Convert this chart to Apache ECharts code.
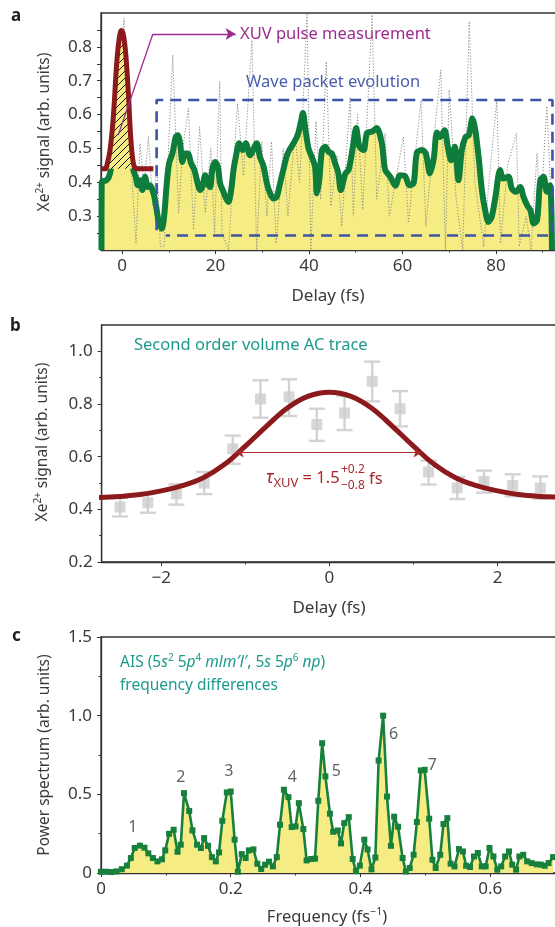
<!DOCTYPE html>
<html>
<head>
<meta charset="utf-8">
<script src="https://cdn.jsdelivr.net/npm/echarts@6/dist/echarts.min.js"></script>
<style>
  html, body { margin: 0; padding: 0; background: #fff; }
  #chart { width: 555px; height: 927px; }
</style>
</head>
<body>
<div id="chart"></div>
<script>
// ---- panel a: wave packet trace ----
var aDelaySmooth = [-4.4, -4.35, -3.3, -2.57, -1.86, -1.14, -0.64, -0.21, 0.29, 1.0, 1.71, 2.43, 2.93, 3.36, 3.85, 4.35, 4.93, 5.5, 6.0, 6.5, 6.93, 7.43, 7.93, 8.5, 9.0, 9.57, 10.07, 10.78, 11.49, 11.92, 12.42, 12.92, 13.49, 14.06, 14.78, 15.49, 16.2, 16.7, 17.2, 17.78, 18.35, 18.85, 19.35, 19.92, 20.5, 21.0, 21.7, 22.27, 22.77, 23.35, 23.85, 24.35, 25.06, 25.77, 26.49, 27.4, 28.8, 29.5, 30.3, 31.0, 31.7, 32.4, 33.1, 33.8, 34.5, 35.3, 36.0, 36.9, 37.6, 38.3, 38.7, 39.2, 39.9, 40.6, 41.3, 41.7, 42.2, 42.8, 43.5, 44.2, 44.9, 45.6, 46.3, 46.8, 47.8, 48.5, 49.4, 50.1, 50.8, 51.7, 52.4, 53.5, 54.5, 55.6, 56.3, 57.4, 58.5, 59.5, 60.6, 61.5, 62.4, 63.1, 64.2, 65.0, 65.9, 66.7, 67.4, 68.1, 69.0, 69.7, 70.4, 71.2, 72.0, 72.7, 73.5, 74.2, 75.0, 75.6, 76.3, 77.0, 77.7, 78.4, 79.1, 79.9, 80.9, 81.6, 82.7, 83.4, 84.3, 85.2, 85.9, 86.7, 87.4, 88.1, 88.8, 89.5, 90.2, 90.9, 91.6, 92.0];
var aSignalSmooth = [0.2, 0.40, 0.406, 0.426, 0.495, 0.584, 0.663, 0.722, 0.697, 0.594, 0.495, 0.436, 0.416, 0.391, 0.406, 0.377, 0.416, 0.386, 0.391, 0.377, 0.357, 0.317, 0.278, 0.263, 0.298, 0.396, 0.456, 0.485, 0.534, 0.539, 0.515, 0.46, 0.485, 0.485, 0.456, 0.436, 0.396, 0.377, 0.386, 0.421, 0.396, 0.386, 0.441, 0.46, 0.446, 0.396, 0.372, 0.352, 0.342, 0.377, 0.436, 0.475, 0.515, 0.495, 0.515, 0.48, 0.515, 0.475, 0.446, 0.396, 0.367, 0.352, 0.357, 0.396, 0.436, 0.48, 0.50, 0.52, 0.54, 0.58, 0.605, 0.56, 0.50, 0.475, 0.446, 0.367, 0.406, 0.495, 0.505, 0.49, 0.485, 0.456, 0.426, 0.377, 0.426, 0.437, 0.505, 0.56, 0.505, 0.495, 0.545, 0.55, 0.56, 0.515, 0.437, 0.416, 0.39, 0.421, 0.418, 0.391, 0.398, 0.488, 0.495, 0.485, 0.426, 0.47, 0.547, 0.534, 0.554, 0.505, 0.465, 0.505, 0.406, 0.495, 0.534, 0.539, 0.589, 0.554, 0.475, 0.377, 0.317, 0.283, 0.298, 0.357, 0.436, 0.411, 0.416, 0.381, 0.372, 0.386, 0.357, 0.332, 0.317, 0.278, 0.288, 0.406, 0.416, 0.372, 0.391, 0.2];

var aDelayRaw = [-4.4, -3.0, -1.5, -0.5, 0.43, 1.5, 2.99, 3.85, 4.7, 5.65, 6.6, 7.5, 8.2, 9.0, 10.85, 12.1, 13.0, 14.2, 15.3, 16.6, 17.8, 19.0, 19.8, 20.9, 21.4, 22.8, 24.7, 26.0, 27.8, 28.8, 29.9, 31.0, 32.0, 33.0, 34.5, 35.5, 37.0, 38.0, 39.6, 40.4, 41.5, 42.5, 43.7, 44.7, 46.0, 47.0, 48.8, 49.5, 50.4, 51.5, 53.5, 54.5, 56.3, 57.2, 58.5, 60.2, 61.3, 62.5, 64.0, 65.0, 66.5, 68.2, 69.2, 70.0, 71.5, 72.9, 74.3, 75.5, 77.4, 78.5, 80.2, 81.0, 82.5, 84.4, 85.0, 86.5, 87.5, 88.8, 89.5, 90.9, 91.8];
var aSignalRaw = [0.40, 0.41, 0.52, 0.75, 0.885, 0.55, 0.22, 0.515, 0.386, 0.535, 0.33, 0.45, 0.21, 0.21, 0.776, 0.31, 0.50, 0.619, 0.26, 0.564, 0.31, 0.50, 0.25, 0.697, 0.25, 0.20, 0.633, 0.42, 0.82, 0.20, 0.52, 0.30, 0.52, 0.22, 0.50, 0.30, 0.545, 0.40, 0.90, 0.20, 0.58, 0.35, 0.757, 0.33, 0.48, 0.27, 0.651, 0.30, 0.60, 0.32, 0.895, 0.35, 0.545, 0.30, 0.40, 0.534, 0.28, 0.45, 0.643, 0.27, 0.50, 0.732, 0.20, 0.673, 0.35, 0.20, 0.875, 0.40, 0.21, 0.40, 0.643, 0.22, 0.45, 0.545, 0.21, 0.30, 0.20, 0.486, 0.30, 0.625, 0.35];

var aDelayPulse = [-4.4, -3.5, -3.3, -2.57, -1.86, -1.14, -0.64, -0.15, 0.29, 0.78, 1.36, 1.85, 2.43, 3.1, 3.6, 6.7];
var aSignalPulse = [0.44, 0.44, 0.446, 0.495, 0.594, 0.752, 0.82, 0.848, 0.835, 0.781, 0.663, 0.535, 0.456, 0.44, 0.44, 0.44];

// dashed "wave packet" box corners (delay, signal)
var aBoxDelay = [7.4, 7.4, 92.1, 92.1, 9.35];
var aBoxSignal = [0.258, 0.643, 0.643, 0.243, 0.243];

var aXLabels = [0, 20, 40, 60, 80];
var aXMinor = [10, 30, 50, 70, 90];
var aYLabels = [0.3, 0.4, 0.5, 0.6, 0.7, 0.8];
var aYTicks = [0.25, 0.3, 0.35, 0.4, 0.45, 0.5, 0.55, 0.6, 0.65, 0.7, 0.75, 0.8, 0.85];

// ---- panel b: autocorrelation ----
var bDelay = [-2.49, -2.16, -1.82, -1.49, -1.15, -0.82, -0.48, -0.15, 0.18, 0.51, 0.84, 1.18, 1.52, 1.84, 2.18, 2.51];
var bSignal = [0.409, 0.425, 0.459, 0.50, 0.630, 0.819, 0.827, 0.722, 0.766, 0.886, 0.782, 0.542, 0.481, 0.506, 0.49, 0.481];
var bErrLow = [0.373, 0.387, 0.418, 0.458, 0.573, 0.748, 0.754, 0.66, 0.701, 0.81, 0.715, 0.494, 0.439, 0.463, 0.449, 0.44];
var bErrHigh = [0.443, 0.462, 0.495, 0.542, 0.68, 0.89, 0.894, 0.782, 0.83, 0.961, 0.849, 0.585, 0.523, 0.547, 0.533, 0.525];

var bFitDelay = [-2.75, -2.5, -2.25, -2.0, -1.75, -1.5, -1.25, -1.0, -0.75, -0.5, -0.25, 0, 0.25, 0.5, 0.75, 1.0, 1.25, 1.5, 1.75, 2.0, 2.25, 2.5, 2.75, 3.0];
var bFitSignal = [0.445, 0.449, 0.456, 0.470, 0.49, 0.52, 0.57, 0.64, 0.715, 0.785, 0.83, 0.845, 0.83, 0.785, 0.715, 0.64, 0.57, 0.52, 0.49, 0.47, 0.456, 0.449, 0.446, 0.445];

var bXLabels = [-2, 0, 2];
var bXMinor = [-1, 1];
var bYLabels = [0.2, 0.4, 0.6, 0.8, 1.0];
var bYMinor = [0.3, 0.5, 0.7, 0.9];

// ---- panel c: power spectrum ----
var cFreq = [0.000, 0.008, 0.016, 0.024, 0.032, 0.040, 0.046, 0.052, 0.060, 0.067, 0.073, 0.080, 0.087, 0.094, 0.099, 0.105, 0.112, 0.118, 0.123, 0.128, 0.136, 0.141, 0.148, 0.154, 0.159, 0.165, 0.171, 0.177, 0.182, 0.187, 0.194, 0.200, 0.206, 0.211, 0.217, 0.223, 0.228, 0.235, 0.241, 0.247, 0.253, 0.259, 0.265, 0.271, 0.276, 0.282, 0.289, 0.294, 0.300, 0.305, 0.312, 0.317, 0.324, 0.330, 0.335, 0.341, 0.346, 0.353, 0.358, 0.365, 0.370, 0.375, 0.382, 0.388, 0.393, 0.399, 0.406, 0.411, 0.417, 0.423, 0.428, 0.435, 0.441, 0.447, 0.452, 0.458, 0.465, 0.470, 0.476, 0.482, 0.487, 0.493, 0.499, 0.506, 0.511, 0.516, 0.523, 0.528, 0.534, 0.539, 0.545, 0.552, 0.558, 0.563, 0.569, 0.575, 0.581, 0.587, 0.593, 0.599, 0.605, 0.611, 0.617, 0.623, 0.629, 0.634, 0.640, 0.645, 0.651, 0.657, 0.664, 0.672, 0.678, 0.684, 0.690, 0.697];
var cPower = [0.008, 0.008, 0.006, 0.010, 0.024, 0.047, 0.095, 0.159, 0.174, 0.161, 0.125, 0.095, 0.074, 0.087, 0.144, 0.249, 0.275, 0.135, 0.180, 0.508, 0.394, 0.271, 0.180, 0.159, 0.222, 0.173, 0.101, 0.074, 0.131, 0.332, 0.512, 0.518, 0.212, 0.008, 0.120, 0.095, 0.144, 0.150, 0.059, 0.025, 0.053, 0.072, 0.042, 0.101, 0.307, 0.529, 0.482, 0.292, 0.296, 0.444, 0.279, 0.080, 0.089, 0.091, 0.459, 0.825, 0.614, 0.377, 0.262, 0.270, 0.188, 0.317, 0.355, 0.089, 0.012, 0.047, 0.212, 0.150, 0.023, 0.098, 0.715, 1.000, 0.486, 0.173, 0.358, 0.294, 0.095, 0.010, 0.032, 0.116, 0.324, 0.652, 0.656, 0.345, 0.084, 0.032, 0.116, 0.311, 0.349, 0.059, 0.042, 0.152, 0.137, 0.046, 0.038, 0.105, 0.127, 0.042, 0.042, 0.159, 0.105, 0.021, 0.042, 0.105, 0.137, 0.053, 0.021, 0.105, 0.116, 0.074, 0.063, 0.055, 0.053, 0.046, 0.063, 0.101];

var cPeakNames = ['1', '2', '3', '4', '5', '6', '7'];
var cPeakFreq = [0.049, 0.123, 0.197, 0.295, 0.363, 0.451, 0.511];
var cPeakPower = [0.288, 0.605, 0.644, 0.605, 0.643, 0.878, 0.681];

var cXLabels = [0, 0.2, 0.4, 0.6];
var cXMinor = [0.1, 0.3, 0.5, 0.7];
var cYLabels = [0, 0.5, 1.0, 1.5];
var cYMinor = [0.25, 0.75, 1.25];

// ---- helpers ----
var FONT = 'Noto Sans';
var AXIS_COLOR = '#333';
var TEXT_COLOR = '#3a3a3a';

function zip(xs, ys) {
    return xs.map(function (x, i) { return [x, ys[i]]; });
}

function fmtNum(v) {
    if (Math.abs(v) < 1e-9) return '0';
    var s = (Math.abs(v) % 1 === 0 && Math.abs(v) >= 2) ? String(Math.abs(v)) : Math.abs(v).toFixed(1);
    return (v < 0 ? '\u2212' : '') + s;
}

function majorAxis(grid, min, max, labels, ticks, isX) {
    return {
        type: 'value', gridIndex: grid, min: min, max: max,
        position: isX ? 'bottom' : 'left',
        axisLine: { show: true, onZero: false, lineStyle: { color: AXIS_COLOR, width: 1.3 } },
        axisTick: { show: true, customValues: ticks, length: 4, inside: false, lineStyle: { color: AXIS_COLOR, width: 1 } },
        axisLabel: {
            show: true, customValues: labels, formatter: fmtNum,
            color: TEXT_COLOR, fontSize: 17, fontFamily: FONT, margin: isX ? 8 : 9
        },
        splitLine: { show: false }
    };
}

function minorAxis(grid, min, max, ticks, isX) {
    return {
        type: 'value', gridIndex: grid, min: min, max: max,
        position: isX ? 'bottom' : 'left',
        axisLine: { show: false, onZero: false },
        axisTick: { show: true, customValues: ticks, length: 2.5, lineStyle: { color: AXIS_COLOR, width: 1 } },
        axisLabel: { show: false },
        splitLine: { show: false }
    };
}

// hatch pattern for the XUV pulse
var hatch = document.createElement('canvas');
hatch.width = 7; hatch.height = 7;
(function () {
    var ctx = hatch.getContext('2d');
    ctx.fillStyle = '#f5ec84';
    ctx.fillRect(0, 0, 7, 7);
    ctx.strokeStyle = '#111';
    ctx.lineWidth = 1;
    ctx.beginPath();
    ctx.moveTo(-1, 8); ctx.lineTo(8, -1);
    ctx.stroke();
})();

var chart = echarts.init(document.getElementById('chart'), null, { renderer: 'canvas' });

// grids run past the right edge of the page, like the cropped original
var grids = [
    { left: 101, top: 13, width: 465, height: 237 },
    { left: 101.6, top: 325, width: 480, height: 237 },
    { left: 101, top: 637, width: 467, height: 236 }
].map(function (g) {
    g.show = true; g.borderColor = AXIS_COLOR; g.borderWidth = 1.3; g.backgroundColor = 'transparent';
    g.containLabel = false; g.outerBoundsMode = 'none';
    return g;
});

var xAxes = [
    majorAxis(0, -4.5, 95, aXLabels, aXLabels, true),
    minorAxis(0, -4.5, 95, aXMinor, true),
    majorAxis(1, -2.71, 3.0, bXLabels, bXLabels, true),
    minorAxis(1, -2.71, 3.0, bXMinor, true),
    majorAxis(2, 0, 0.72, cXLabels, cXLabels, true),
    minorAxis(2, 0, 0.72, cXMinor, true)
];
var yAxes = [
    majorAxis(0, 0.2, 0.9, aYLabels, aYTicks, false),
    majorAxis(1, 0.2, 1.1, bYLabels, bYLabels, false),
    minorAxis(1, 0.2, 1.1, bYMinor, false),
    majorAxis(2, 0, 1.5, cYLabels, cYLabels, false),
    minorAxis(2, 0, 1.5, cYMinor, false)
];

var bErrData = bDelay.map(function (d, i) { return [d, bErrLow[i], bErrHigh[i]]; });

var series = [
    // a: yellow fill under the smoothed trace
    {
        type: 'line', xAxisIndex: 0, yAxisIndex: 0, data: zip(aDelaySmooth, aSignalSmooth),
        smooth: 0.3, symbol: 'none', z: 1,
        lineStyle: { width: 0 },
        areaStyle: { color: '#f5ec84', opacity: 1, origin: 'start' }
    },
    // a: raw dotted data
    {
        type: 'line', xAxisIndex: 0, yAxisIndex: 0, data: zip(aDelayRaw, aSignalRaw),
        symbol: 'none', z: 2,
        lineStyle: { color: '#8c8c8c', width: 1, type: [1.2, 1.8] }
    },
    // a: smoothed trace
    {
        type: 'line', xAxisIndex: 0, yAxisIndex: 0, data: zip(aDelaySmooth, aSignalSmooth),
        smooth: 0.3, symbol: 'none', z: 3,
        lineStyle: { color: '#0e7d3b', width: 6 }
    },
    // a: XUV pulse
    {
        type: 'line', xAxisIndex: 0, yAxisIndex: 0, data: zip(aDelayPulse, aSignalPulse),
        smooth: 0.35, symbol: 'none', z: 4,
        lineStyle: { color: '#8c1a1d', width: 5 },
        areaStyle: { color: { image: hatch, repeat: 'repeat' }, opacity: 1, origin: 0.44 },
        markLine: {
            silent: true, animation: false,
            lineStyle: { color: '#9d2a8e', width: 1.3, type: 'solid' },
            label: { show: false },
            data: [
                [{ coord: [-0.8, 0.54], symbol: 'none' }, { coord: [6.6, 0.838], symbol: 'none' }],
                [{ coord: [6.6, 0.838], symbol: 'none' }, { coord: [24.3, 0.838], symbol: 'arrow', symbolSize: [9, 10] }]
            ]
        }
    },
    // a: dashed box
    {
        type: 'line', xAxisIndex: 0, yAxisIndex: 0, data: zip(aBoxDelay, aBoxSignal),
        symbol: 'none', z: 5,
        lineStyle: { color: '#3d53a4', width: 2.6, type: [11, 7] }
    },
    // b: error bars
    {
        type: 'custom', xAxisIndex: 2, yAxisIndex: 1, data: bErrData, z: 1,
        encode: { x: 0, y: [1, 2] },
        renderItem: function (params, api) {
            var lo = api.coord([api.value(0), api.value(1)]);
            var hi = api.coord([api.value(0), api.value(2)]);
            var w = 8;
            var st = { stroke: '#d3d3d3', lineWidth: 2.4 };
            return {
                type: 'group', children: [
                    { type: 'line', shape: { x1: lo[0], y1: lo[1], x2: hi[0], y2: hi[1] }, style: st },
                    { type: 'line', shape: { x1: lo[0] - w, y1: lo[1], x2: lo[0] + w, y2: lo[1] }, style: st },
                    { type: 'line', shape: { x1: hi[0] - w, y1: hi[1], x2: hi[0] + w, y2: hi[1] }, style: st }
                ]
            };
        }
    },
    // b: measured points
    {
        type: 'scatter', xAxisIndex: 2, yAxisIndex: 1, data: zip(bDelay, bSignal), z: 2,
        symbol: 'rect', symbolSize: 11,
        itemStyle: { color: '#cdcdcd' }
    },
    // b: fit
    {
        type: 'line', xAxisIndex: 2, yAxisIndex: 1, data: zip(bFitDelay, bFitSignal),
        smooth: 0.4, symbol: 'none', z: 3,
        lineStyle: { color: '#8c1a1d', width: 5 },
        markLine: {
            silent: true, animation: false,
            symbol: ['arrow', 'arrow'], symbolSize: [7, 8],
            lineStyle: { color: '#a8282b', width: 1.2, type: 'solid' },
            label: { show: false },
            data: [[{ coord: [-1.115, 0.615] }, { coord: [1.095, 0.615] }]]
        }
    },
    // c: spectrum
    {
        type: 'line', xAxisIndex: 4, yAxisIndex: 3, data: zip(cFreq, cPower), z: 2,
        symbol: 'rect', symbolSize: 6, showAllSymbol: true,
        itemStyle: { color: '#17803d' },
        lineStyle: { color: '#17803d', width: 2.6 },
        areaStyle: { color: '#f5ec84', opacity: 1, origin: 'start' }
    },
    // c: peak numbers
    {
        type: 'scatter', xAxisIndex: 4, yAxisIndex: 3, z: 3, symbolSize: 0,
        data: cPeakFreq.map(function (f, i) { return { value: [f, cPeakPower[i]], name: cPeakNames[i] }; }),
        label: {
            show: true, position: 'inside', formatter: '{b}',
            color: TEXT_COLOR, fontSize: 16, fontFamily: FONT
        }
    }
];

var teal = '#1c9a8c';
var red = '#a8282b';
var supTitle = {
    n: { fontSize: 15.5, fontFamily: FONT, fill: TEXT_COLOR, lineHeight: 20 },
    s: { fontSize: 10, fontFamily: FONT, fill: TEXT_COLOR, lineHeight: 10, verticalAlign: 'top' }
};
var graphic = [
    // panel letters
    { type: 'text', left: 11, top: 8, style: { text: 'a', font: 'bold 17px ' + FONT, fill: '#222' } },
    { type: 'text', left: 10, top: 318, style: { text: 'b', font: 'bold 17px ' + FONT, fill: '#222' } },
    { type: 'text', left: 12, top: 628, style: { text: 'c', font: 'bold 17px ' + FONT, fill: '#222' } },

    // axis titles
    {
        type: 'text', x: 45, y: 132, rotation: Math.PI / 2,
        style: { text: '{n|Xe}{s|2+}{n| signal (arb. units)}', align: 'center', verticalAlign: 'middle', rich: supTitle }
    },
    { type: 'text', x: 328, y: 296, style: { text: 'Delay (fs)', align: 'center', verticalAlign: 'middle', font: '17px ' + FONT, fill: TEXT_COLOR } },
    {
        type: 'text', x: 43, y: 442, rotation: Math.PI / 2,
        style: { text: '{n|Xe}{s|2+}{n| signal (arb. units)}', align: 'center', verticalAlign: 'middle', rich: supTitle }
    },
    { type: 'text', x: 329, y: 608, style: { text: 'Delay (fs)', align: 'center', verticalAlign: 'middle', font: '17px ' + FONT, fill: TEXT_COLOR } },
    {
        type: 'text', x: 45, y: 755, rotation: Math.PI / 2,
        style: { text: 'Power spectrum (arb. units)', align: 'center', verticalAlign: 'middle', font: '15.5px ' + FONT, fill: TEXT_COLOR }
    },
    {
        type: 'text', x: 327, y: 917,
        style: {
            text: '{n|Frequency (fs}{s|\u22121}{n|)}', align: 'center', verticalAlign: 'middle',
            rich: {
                n: { fontSize: 16.5, fontFamily: FONT, fill: TEXT_COLOR, lineHeight: 20 },
                s: { fontSize: 10.5, fontFamily: FONT, fill: TEXT_COLOR, lineHeight: 10, verticalAlign: 'top' }
            }
        }
    },

    // panel a annotations
    { type: 'text', x: 240, y: 34, style: { text: 'XUV pulse measurement', verticalAlign: 'middle', font: '16.5px ' + FONT, fill: '#9d2a8e' } },
    { type: 'text', x: 246, y: 82, style: { text: 'Wave packet evolution', verticalAlign: 'middle', font: '16.5px ' + FONT, fill: '#4a5eae' } },

    // panel b annotations
    { type: 'text', x: 134, y: 345, style: { text: 'Second order volume AC trace', verticalAlign: 'middle', font: '16.5px ' + FONT, fill: teal } },
    {
        type: 'text', x: 266, y: 478,
        style: {
            text: '{ti|\u03c4}{sub|XUV}{t| = 1.5}', verticalAlign: 'middle',
            rich: {
                ti: { fontSize: 18, fontStyle: 'italic', fontFamily: FONT, fill: red, lineHeight: 24 },
                t: { fontSize: 16.5, fontFamily: FONT, fill: red, lineHeight: 24 },
                sub: { fontSize: 13, fontFamily: FONT, fill: red, lineHeight: 13, verticalAlign: 'bottom' }
            }
        }
    },
    { type: 'text', x: 341, y: 470, style: { text: '+0.2', verticalAlign: 'middle', font: '12px ' + FONT, fill: red } },
    { type: 'text', x: 341, y: 486, style: { text: '\u22120.8', verticalAlign: 'middle', font: '12px ' + FONT, fill: red } },
    { type: 'text', x: 369, y: 479, style: { text: 'fs', verticalAlign: 'middle', font: '16.5px ' + FONT, fill: red } },

    // panel c annotation
    {
        type: 'text', x: 120, y: 663,
        style: {
            text: '{t|AIS (5}{i|s}{s|2}{t| 5}{i|p}{s|4}{t| }{i|mlm\u2032l\u2032}{t|, 5}{i|s}{t| 5}{i|p}{s|6}{t| }{i|np}{t|)}',
            verticalAlign: 'middle',
            rich: {
                t: { fontSize: 15.5, fontFamily: FONT, fill: teal, lineHeight: 20 },
                i: { fontSize: 15.5, fontFamily: FONT, fontStyle: 'italic', fill: teal, lineHeight: 20 },
                s: { fontSize: 10, fontFamily: FONT, fill: teal, lineHeight: 10, verticalAlign: 'top' }
            }
        }
    },
    { type: 'text', x: 120, y: 686, style: { text: 'frequency differences', verticalAlign: 'middle', font: '15.5px ' + FONT, fill: teal } }
];

chart.setOption({
    animation: false,
    backgroundColor: '#fff',
    grid: grids,
    xAxis: xAxes,
    yAxis: yAxes,
    series: series,
    graphic: graphic
});
</script>
</body>
</html>
